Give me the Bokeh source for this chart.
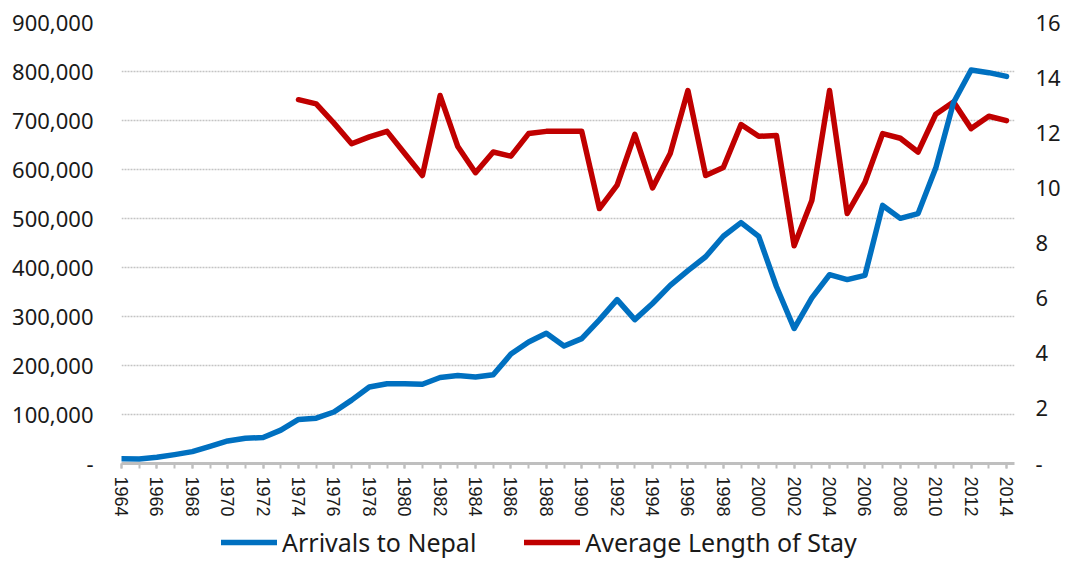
import math
from bokeh.plotting import figure
from bokeh.layouts import column
from bokeh.models import (Range1d, LinearAxis, FixedTicker, NumeralTickFormatter,
                          Legend, LegendItem)
from bokeh.embed import file_html
from bokeh.resources import INLINE

# ---------------- data ----------------
years = list(range(1964, 2015))
arrivals = [9526, 9388, 12567, 18093, 24209, 34901, 45970, 51610, 52930, 68047,
            89838, 92440, 105108, 129329, 156123, 162897, 162897, 161669, 175448, 179405,
            176634, 180989, 223331, 248080, 265943, 239945, 254885, 292995, 334353, 293567,
            326531, 363395, 393613, 421857, 463684, 491504, 463646, 361237, 275468, 338132,
            385297, 375398, 383926, 526705, 500277, 509956, 602867, 736215, 803092, 797616,
            790118]

stay_years = list(range(1974, 2015))
avg_stay = [13.2, 13.05, 12.35, 11.6, 11.85, 12.05, 11.25, 10.45, 13.35, 11.5,
            10.55, 11.3, 11.15, 11.97, 12.05, 12.05, 12.05, 9.25, 10.1, 11.94,
            10.0, 11.25, 13.53, 10.45, 10.74, 12.3, 11.87, 11.9, 7.9, 9.54,
            13.53, 9.07, 10.2, 11.97, 11.8, 11.3, 12.67, 13.12, 12.15, 12.6,
            12.44]

left_ticks = list(range(0, 900001, 100000))
right_ticks = list(range(0, 17, 2))
x_major = list(range(1964, 2015, 2))
x_minor = years

series_names = ["Arrivals to Nepal", "Average Length of Stay"]
series_colors = ["#0070C0", "#C00000"]

# ---------------- main figure ----------------
p = figure(width=1063, height=525, output_backend="svg", toolbar_location=None,
           x_range=Range1d(1964, 2014.45), y_range=Range1d(0, 900000),
           min_border_left=121, min_border_right=48, min_border_top=22,
           min_border_bottom=62)
p.outline_line_color = None
p.background_fill_color = "white"
p.border_fill_color = "white"
p.extra_y_ranges = {"stay": Range1d(0, 16)}

label_font = "Noto Sans"

# left axis
ya = p.yaxis[0]
ya.ticker = FixedTicker(ticks=left_ticks)
ya.formatter = NumeralTickFormatter(format="0,0")
ya.major_label_overrides = {0: "-"}
ya.axis_line_color = None
ya.major_tick_line_color = None
ya.minor_tick_line_color = None
ya.major_tick_in = 0
ya.major_tick_out = 0
ya.minor_tick_in = 0
ya.minor_tick_out = 0
ya.major_label_standoff = 28
ya.major_label_text_font = label_font
ya.major_label_text_font_size = "22px"
ya.major_label_text_color = "#1a1a1a"

# right axis
ra = LinearAxis(y_range_name="stay", ticker=FixedTicker(ticks=right_ticks))
ra.major_label_overrides = {0: "-"}
ra.axis_line_color = None
ra.major_tick_line_color = None
ra.minor_tick_line_color = None
ra.major_tick_in = 0
ra.major_tick_out = 0
ra.minor_tick_in = 0
ra.minor_tick_out = 0
ra.major_label_standoff = 21
ra.major_label_text_font = label_font
ra.major_label_text_font_size = "22px"
ra.major_label_text_color = "#1a1a1a"
p.add_layout(ra, "right")

# x axis
xa = p.xaxis[0]
xa.ticker = FixedTicker(ticks=x_major, minor_ticks=x_minor)
xa.major_label_orientation = -math.pi / 2
xa.major_label_text_font = "Liberation Sans"
xa.major_label_text_font_size = "18px"
xa.major_label_text_color = "#1a1a1a"
xa.major_label_standoff = 8
xa.axis_line_color = "#bfbfbf"
xa.axis_line_width = 3
xa.major_tick_line_color = "#bfbfbf"
xa.minor_tick_line_color = "#bfbfbf"
xa.major_tick_line_width = 2
xa.minor_tick_line_width = 2
xa.major_tick_in = 0
xa.major_tick_out = 5
xa.minor_tick_in = 0
xa.minor_tick_out = 5

# grid
p.xgrid.grid_line_color = None
p.ygrid.ticker = FixedTicker(ticks=left_ticks[1:])
p.ygrid.grid_line_color = "#c4c4c4"
p.ygrid.grid_line_width = 1.5
p.ygrid.grid_line_dash = "2 1"

# lines (red first so blue is on top)
r_red = p.line(stay_years, avg_stay, y_range_name="stay", line_width=5.5,
               line_color=series_colors[1], line_join="round", line_cap="round")
r_blue = p.line(years, arrivals, line_width=5.5, line_color=series_colors[0],
                line_join="round", line_cap="round")

# ---------------- legend strip ----------------
lp = figure(width=1063, height=34, output_backend="svg", toolbar_location=None,
            x_range=Range1d(0, 1), y_range=Range1d(0, 1), min_border=0)
lp.outline_line_color = None
lp.axis.visible = False
lp.grid.visible = False
lp.border_fill_color = "white"
# key renderers: placed outside the visible range, only their legend swatches show
lg_renderers = [lp.line([-5, -4], [-5, -4], line_width=5.5, line_color=c,
                        line_cap="round")
                for c in series_colors]

legend = Legend(items=[LegendItem(label=n, renderers=[r])
                       for n, r in zip(series_names, lg_renderers)],
                location=(100, 0), orientation="horizontal",
                padding=0, margin=0, spacing=48,
                glyph_width=56, glyph_height=24, label_height=24,
                label_standoff=5, label_text_font=label_font,
                label_text_font_size="25px", label_text_color="#1a1a1a",
                border_line_color=None, background_fill_alpha=0)
lp.add_layout(legend, "center")

layout = column(p, lp, spacing=0)
open("out.html", "w").write(file_html(layout, INLINE))
